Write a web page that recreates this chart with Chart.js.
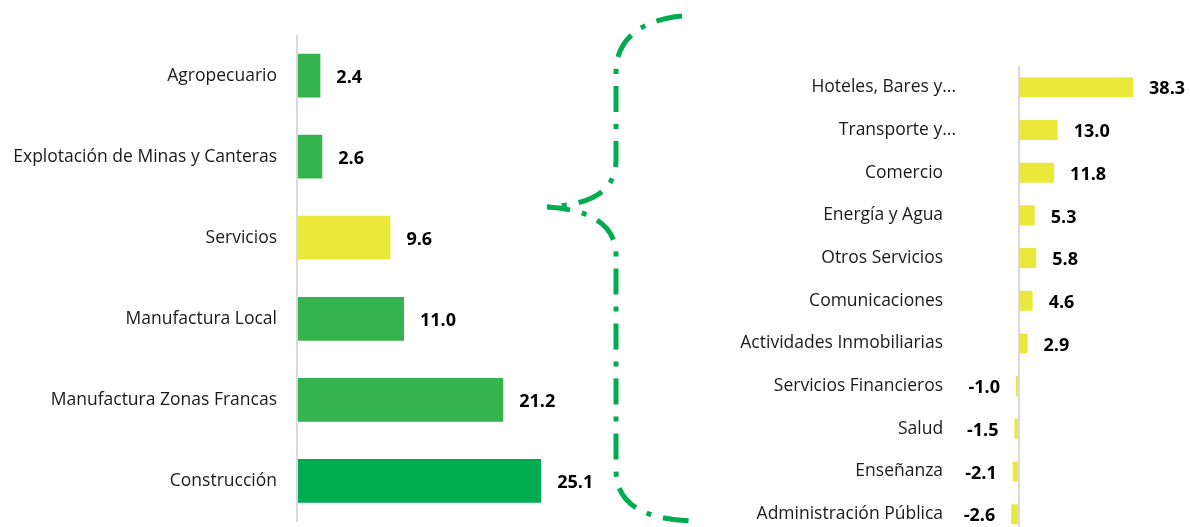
<!DOCTYPE html>
<html>
<head>
<meta charset="utf-8">
<script src="https://cdn.jsdelivr.net/npm/chart.js@4"></script>
<style>
  html, body { margin: 0; padding: 0; background: #fff; overflow: hidden; }
  #wrap { position: relative; width: 1190px; height: 527px; overflow: hidden; }
  #left { position: absolute; left: 0; top: 0; }
  #right { position: absolute; left: 620px; top: 0; }
  #brace { position: absolute; left: 0; top: 0; pointer-events: none; }
</style>
</head>
<body>
<div id="wrap">
  <canvas id="left" width="620" height="552"></canvas>
  <canvas id="right" width="570" height="555"></canvas>
  <canvas id="brace" width="1190" height="527"></canvas>
</div>
<script>
// Left: main sectors
const sectors = [
  "Agropecuario",
  "Explotación de Minas y Canteras",
  "Servicios",
  "Manufactura Local",
  "Manufactura Zonas Francas",
  "Construcción",
];
const sectorValues = [2.4, 2.6, 9.6, 11.0, 21.2, 25.1];
const sectorColors = ["#35b34f", "#35b34f", "#ebe83c", "#35b34f", "#35b34f", "#00ac4f"];

// Right: services breakdown
const services = [
  "Hoteles, Bares y...",
  "Transporte y...",
  "Comercio",
  "Energía y Agua",
  "Otros Servicios",
  "Comunicaciones",
  "Actividades Inmobiliarias",
  "Servicios Financieros",
  "Salud",
  "Enseñanza",
  "Administración Pública",
];
const serviceValues = [38.3, 13.0, 11.8, 5.3, 5.8, 4.6, 2.9, -1.0, -1.5, -2.1, -2.6];

const FONT = "'Open Sans', 'Noto Sans', sans-serif";

// value labels at the bar ends
const valueLabels = {
  id: "valueLabels",
  afterDatasetsDraw(chart) {
    const ctx = chart.ctx;
    const meta = chart.getDatasetMeta(0);
    ctx.save();
    ctx.font = "bold 18px " + FONT;
    ctx.fillStyle = "#000";
    ctx.textBaseline = "middle";
    meta.data.forEach((bar, i) => {
      const v = chart.data.datasets[0].data[i];
      const txt = v.toFixed(1);
      if (v >= 0) {
        ctx.textAlign = "left";
        ctx.fillText(txt, bar.x + 16, bar.y + 2);
      } else {
        ctx.textAlign = "right";
        ctx.fillText(txt, bar.x - 16, bar.y + 2);
      }
    });
    ctx.restore();
  },
};

function barOptions(cfg) {
  const ticks = {
    color: "#1a1a1a",
    font: { family: FONT, size: 17.5 },
    padding: cfg.tickPad,
    autoSkip: false,
  };
  if (cfg.tickCb) ticks.callback = cfg.tickCb;
  return {
    responsive: false,
    maintainAspectRatio: false,
    animation: false,
    indexAxis: "y",
    layout: { padding: cfg.padding },
    plugins: { legend: { display: false }, tooltip: { enabled: false } },
    scales: {
      x: {
        min: cfg.min,
        max: cfg.max,
        border: { display: false },
        ticks: { display: false, stepSize: 1 },
        // only the zero line is shown, as the category axis
        grid: {
          drawTicks: false,
          lineWidth: 2,
          color: (c) => (c.tick && c.tick.value === 0 ? "#d9d9d9" : "rgba(0,0,0,0)"),
        },
      },
      y: {
        grid: { display: false, drawTicks: false },
        border: { display: false },
        ticks: ticks,
        afterFit: (scale) => { scale.width = cfg.axisWidth; },
      },
    },
  };
}

new Chart(document.getElementById("left"), {
  type: "bar",
  data: {
    labels: sectors,
    datasets: [{
      data: sectorValues,
      backgroundColor: sectorColors,
      categoryPercentage: 1,
      barPercentage: 0.54,
    }],
  },
  options: barOptions({
    padding: { top: 35, bottom: 6, left: 0, right: 0 },
    min: 0,
    max: 33.2,
    tickPad: 20,
    axisWidth: 297,
  }),
  plugins: [valueLabels],
});

new Chart(document.getElementById("right"), {
  type: "bar",
  data: {
    labels: services,
    datasets: [{
      data: serviceValues,
      backgroundColor: "#ebe83c",
      categoryPercentage: 1,
      barPercentage: 0.47,
    }],
  },
  options: barOptions({
    padding: { top: 66, bottom: 5, left: 0, right: 0 },
    min: -18.1,
    max: 57.4,
    tickPad: 9,
    axisWidth: 345,
    // truncated labels sit a bit further right in the original
    tickCb: function (value) {
      const s = this.getLabelForValue(value);
      return s.endsWith("...") ? s : s + "\u2007\u2009";
    },
  }),
  plugins: [valueLabels],
});

// dash-dot curly brace linking "Servicios" to its breakdown
(function drawBrace() {
  const ctx = document.getElementById("brace").getContext("2d");
  ctx.strokeStyle = "#00ac4f";
  ctx.lineWidth = 5;
  ctx.setLineDash([26, 12, 5, 12]);
  ctx.beginPath();
  ctx.moveTo(682, 16);
  ctx.bezierCurveTo(640, 20, 616, 40, 616, 72);
  ctx.lineTo(616, 160);
  ctx.bezierCurveTo(616, 195, 585, 205, 547, 207);
  ctx.bezierCurveTo(585, 209, 616, 222, 616, 255);
  ctx.lineTo(616, 470);
  ctx.bezierCurveTo(616, 505, 645, 520, 696, 521);
  ctx.stroke();
})();
</script>
</body>
</html>
